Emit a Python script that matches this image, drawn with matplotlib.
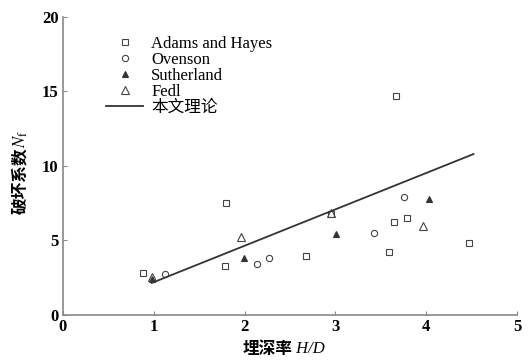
import numpy as np
import matplotlib.pyplot as plt

plt.rcParams['font.family'] = ['Liberation Serif', 'Noto Sans CJK SC']
plt.rcParams['mathtext.fontset'] = 'stix'

# Adams and Hayes (open squares)
adams_x = [0.88, 1.80, 1.78, 2.68, 2.95, 3.59, 3.64, 3.67, 3.79, 4.47]
adams_y = [2.8, 7.5, 3.3, 3.95, 6.8, 4.25, 6.25, 14.7, 6.5, 4.8]
# Ovenson (open circles)
oven_x = [1.12, 2.14, 2.27, 3.42, 3.75]
oven_y = [2.75, 3.4, 3.85, 5.48, 7.95]
# Sutherland (filled triangles)
suth_x = [0.98, 1.99, 3.01, 4.03]
suth_y = [2.4, 3.8, 5.4, 7.75]
# Fedl (open triangles)
fedl_x = [0.98, 1.96, 2.95, 3.96]
fedl_y = [2.55, 5.25, 6.85, 6.0]
# theory line
theory_x = [0.98, 4.52]
theory_y = [2.15, 10.8]

fig = plt.figure(figsize=(5.32, 3.62), dpi=100)
ax = fig.add_axes([0.118, 0.130, 0.854, 0.823])

ms = 4.5
ax.plot(adams_x, adams_y, 's', mfc='none', mec='#444444', ms=ms, mew=0.8, label='Adams and Hayes')
ax.plot(oven_x, oven_y, 'o', mfc='none', mec='#444444', ms=ms, mew=0.8, label='Ovenson')
ax.plot(suth_x, suth_y, '^', mfc='#333333', mec='#333333', ms=ms, mew=0.8, label='Sutherland')
ax.plot(fedl_x, fedl_y, '^', mfc='none', mec='#444444', ms=ms + 1, mew=0.8, label='Fedl')
ax.plot(theory_x, theory_y, '-', color='#333333', lw=1.3, label='本文理论')

ax.set_xlim(0, 5)
ax.set_ylim(0, 20)
ax.set_xticks([0, 1, 2, 3, 4, 5])
ax.set_yticks([0, 5, 10, 15, 20])
for s in ['top', 'right']:
    ax.spines[s].set_visible(False)
for s in ['left', 'bottom']:
    ax.spines[s].set_color('#888888')
    ax.spines[s].set_linewidth(1.2)
ax.tick_params(direction='in', length=3, color='#888888', labelsize=12, pad=3)
for lab in ax.get_xticklabels() + ax.get_yticklabels():
    lab.set_fontweight('bold')

# x label: chinese part + italic H/D
xl = ax.text(0.45, -0.085, '埋深率', transform=ax.transAxes, fontsize=12,
             ha='center', va='top', family='Noto Sans CJK SC', weight='bold')
ax.annotate(' H/D', xy=(1, 0.5), xycoords=xl, va='center', ha='left',
            fontsize=12, style='italic', family='Liberation Serif')

# y label: chinese part + N_f above
yl = ax.text(-0.093, 0.45, '破坏系数', transform=ax.transAxes, fontsize=12,
             ha='center', va='center', rotation=90, family='Noto Sans CJK SC',
             weight='bold')
ax.annotate('$N_\\mathrm{f}$', xy=(0.5, 1), xycoords=yl, va='bottom', ha='center',
            fontsize=12, rotation=90)

leg = ax.legend(loc='upper left', bbox_to_anchor=(0.07, 0.975), frameon=False,
                fontsize=12, labelspacing=0.0, handlelength=2.2, handletextpad=0.5,
                borderpad=0.2)

plt.savefig('out.png', dpi=100)
